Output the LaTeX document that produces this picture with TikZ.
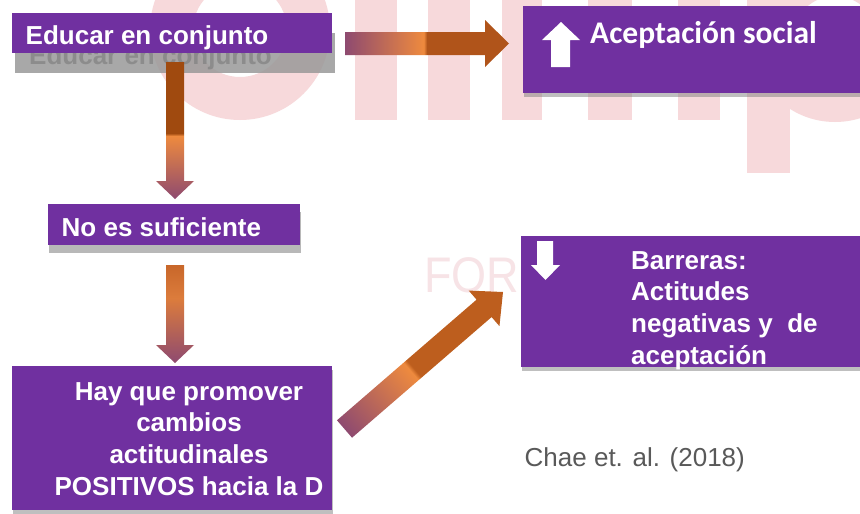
\documentclass[tikz,border=0pt]{standalone}
\usepackage{fontspec}
\setmainfont{Liberation Sans}
\newfontfamily\calibrifont{Carlito}
\usetikzlibrary{calc,shadows}

\definecolor{boxpurple}{HTML}{7030A0}
\definecolor{armauve}{HTML}{8E4A70}
\definecolor{arorange}{HTML}{EE8A3E}
\definecolor{arorangemd}{HTML}{DC7C3C}
\definecolor{arbrown}{HTML}{B0541A}
\definecolor{arbrownlt}{HTML}{BD5E1E}
\definecolor{arbrowndk}{HTML}{A04A0F}
\definecolor{arrust}{HTML}{C8672A}
\definecolor{wmpink}{HTML}{F7D9DB}
\definecolor{wmpinklt}{HTML}{F7E3E6}
\definecolor{citegray}{HTML}{595959}

% gradients along the arrows (tail -> tip)
\pgfdeclarehorizontalshading{toacepshade}{100bp}{color(0bp)=(armauve); color(25bp)=(armauve);
  color(49bp)=(arorange); color(50bp)=(arbrown); color(100bp)=(arbrown)}
\pgfdeclarehorizontalshading{tobarrshade}{100bp}{color(0bp)=(armauve); color(25bp)=(armauve);
  color(46bp)=(arorange); color(47bp)=(arbrownlt); color(100bp)=(arbrownlt)}
\pgfdeclarehorizontalshading{tonosufshade}{100bp}{color(0bp)=(arbrowndk); color(51bp)=(arbrowndk);
  color(52bp)=(arorange); color(75bp)=(armauve); color(100bp)=(armauve)}
\pgfdeclarehorizontalshading{tohayshade}{100bp}{color(0bp)=(arrust); color(25bp)=(arrust);
  color(42bp)=(arorangemd); color(75bp)=(armauve); color(100bp)=(armauve)}

% block arrow: from, to, shading, half shaft, half head, head length
\newcommand{\blockarrow}[6]{%
  \path let \p1=($(#2)-(#1)$) in
    \pgfextra{\pgfmathparse{atan2(\y1,\x1)}\xdef\arrang{\pgfmathresult}%
      \pgfmathparse{veclen(\x1,\y1)}\xdef\arrlen{\pgfmathresult pt}};
  \begin{scope}[transform canvas={shift={(#1)},rotate=\arrang}]
    \shade[shading=#3] (0pt,-#4) -- ({\arrlen-#6},-#4) -- ({\arrlen-#6},-#5)
      -- (\arrlen,0pt) -- ({\arrlen-#6},#5) -- ({\arrlen-#6},#4) -- (0pt,#4) -- cycle;
  \end{scope}}

\begin{document}
\begin{tikzpicture}[x=1pt, y=-1pt,
  box/.style={rectangle, fill=boxpurple, inner sep=0pt, outer sep=0pt, anchor=north west},
  softshadow/.style={drop shadow={shadow xshift=1pt, shadow yshift=-4pt, fill=black!55, opacity=.45}},
  deepshadow/.style={drop shadow={shadow xshift=1pt, shadow yshift=-8pt, fill=black!55, opacity=.5}},
  boxtext/.style={font=\fontsize{26}{31.7}\selectfont\bfseries, text=white, inner sep=0pt, anchor=base west}]

  \fill[white] (0,0) rectangle (860,514);
  \useasboundingbox (0,0) rectangle (860,514);

  % faint logo in the background
  \fill[wmpink, even odd rule] (240,30) circle[radius=90pt] (240,30) circle[radius=47pt];
  \fill[wmpink] (355,-5) rectangle (397,120);
  \fill[wmpink] (428,-5) rectangle (470,120);
  \fill[wmpink] (502,-5) rectangle (542,120);
  \fill[wmpink] (588,-5) rectangle (632,120);
  \fill[wmpink] (678,-5) rectangle (720,120);
  \fill[wmpink] (747,-5) rectangle (790,173);
  \fill[wmpink, even odd rule] (835,38) circle[radius=84pt] (835,38) circle[radius=42pt];
  \node[font=\fontsize{50}{50}\selectfont, text=wmpinklt, inner sep=0pt, anchor=base west,
    xscale=.9] (formark) at (424,292) {FOR};

  % boxes
  \node[box, fill=black!40, opacity=.85, minimum width=320pt, minimum height=40pt] (educar-sh) at (15,33) {};
  \node[boxtext, text=black!48, opacity=.8] (educar-sht) at (29,64) {Educar en conjunto};
  \node[box, minimum width=320pt, minimum height=40pt] (educar) at (12,13) {};
  \node[box, softshadow, minimum width=340pt, minimum height=87pt] (acep) at (523,6) {};
  \node[box, deepshadow, minimum width=252pt, minimum height=41pt] (nosuf) at (48,204) {};
  \node[box, softshadow, minimum width=341pt, minimum height=131pt] (barr) at (521,236) {};
  \node[box, softshadow, minimum width=320pt, minimum height=144pt] (hay) at (12,366) {};

  % texts
  \node[boxtext] (educar-t) at (25.5,45) {Educar en conjunto};
  \node[boxtext, font=\fontsize{31.5}{36}\selectfont\calibrifont\bfseries] (acep-t) at (590,43.5) {Aceptación social};
  \node[boxtext] (nosuf-t) at (61.5,236.5) {No es suficiente};
  \node[boxtext] (barr-t) at (631,269)
    {\begin{tabular}[t]{@{}l@{}}Barreras:\\Actitudes\\negativas y\ \ de\\aceptación\end{tabular}};
  \node[boxtext, anchor=base] (hay-t) at (189,400)
    {\begin{tabular}[t]{@{}c@{}}Hay que promover\\cambios\\actitudinales\\POSITIVOS hacia la D\end{tabular}};
  \node[boxtext, font=\fontsize{26}{31}\selectfont, text=citegray] (cite) at (524.5,466) {Chae et. al. (2018)};

  % white marks inside the boxes
  \fill[white] (561,22) -- (580,40) -- (570,40) -- (570,67) -- (551,67) -- (551,40) -- (542,40) -- cycle;
  \fill[white] (537,241) -- (553,241) -- (553,265) -- (560,265) -- (545.5,280) -- (531,265) -- (537,265) -- cycle;

  % connectors
  \coordinate (toacep-s) at ($(educar.east)+(13,10.5)$);
  \coordinate (toacep-e) at ($(acep.west)+(-14,-6)$);
  \coordinate (tonosuf-s) at ($(educar.south)+(3,9)$);
  \coordinate (tonosuf-e) at ($(nosuf.north)+(1,-5)$);
  \coordinate (tohay-s) at ($(nosuf.south)+(1,20)$);
  \coordinate (tohay-e) at ($(hay.north)+(3,-3)$);
  \coordinate (tobarr-s) at ($(hay.east)+(12.5,-9)$);
  \coordinate (tobarr-e) at ($(barr.west)+(-18,-9.5)$);

  \blockarrow{toacep-s}{toacep-e}{toacepshade}{11.5pt}{23.5pt}{24pt}
  \blockarrow{tonosuf-s}{tonosuf-e}{tonosufshade}{9pt}{19pt}{18pt}
  \blockarrow{tohay-s}{tohay-e}{tohayshade}{9pt}{19pt}{18pt}
  \blockarrow{tobarr-s}{tobarr-e}{tobarrshade}{11.5pt}{23.5pt}{25pt}
\end{tikzpicture}
\end{document}
